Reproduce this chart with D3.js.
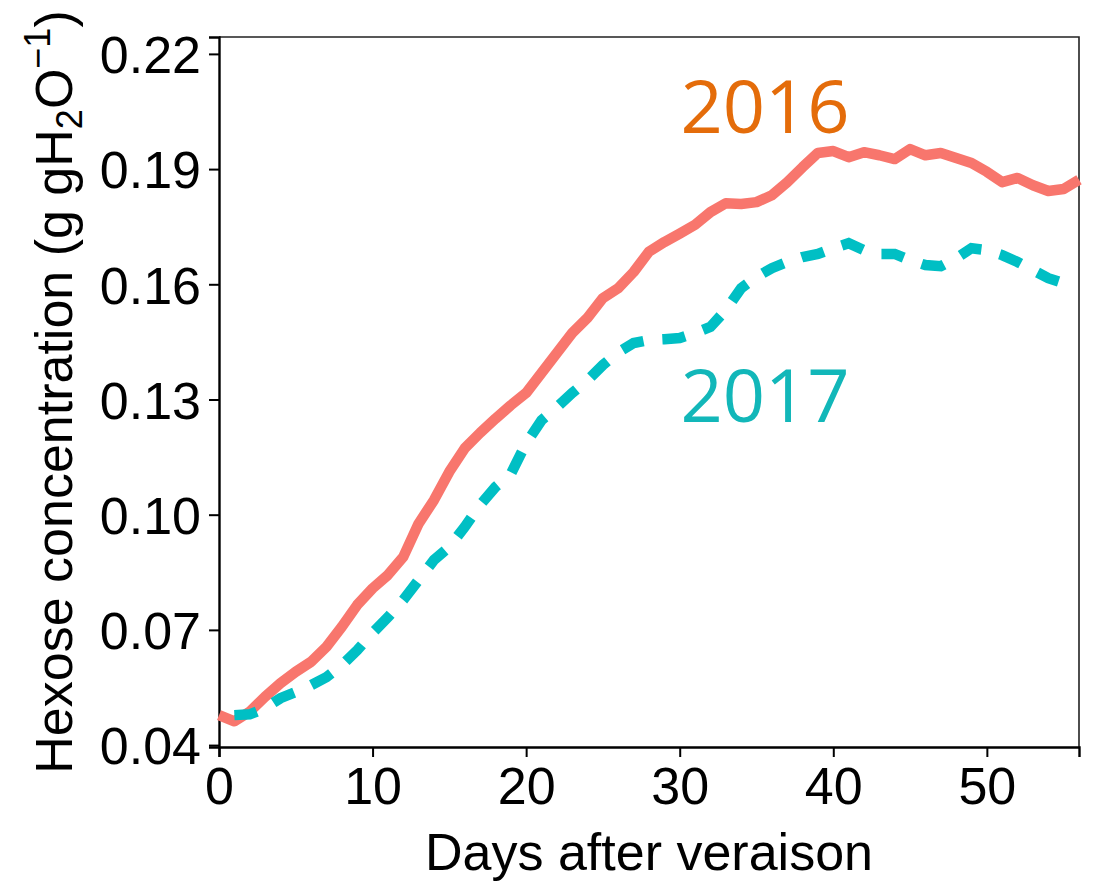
<!DOCTYPE html>
<html>
<head>
<meta charset="utf-8">
<script src="https://cdn.jsdelivr.net/npm/d3@7/dist/d3.min.js"></script>
<style>
  html, body { margin: 0; padding: 0; background: #fff; }
  svg { display: block; }
  text { font-family: "Liberation Sans", Arial, sans-serif; fill: #000; }
</style>
</head>
<body>
<svg id="chart" width="1094" height="882"></svg>
<script>
// Hexose concentration (g per g H2O) by day after veraison
const days2016 = d3.range(0, 57);
const hexose2016 = [
  0.0478, 0.0462, 0.0487, 0.0526, 0.0561, 0.0591, 0.0617, 0.0656, 0.0708, 0.0765,
  0.0808, 0.0843, 0.0890, 0.0977, 0.1038, 0.1112, 0.1173, 0.1213, 0.1250, 0.1285,
  0.1317, 0.1369, 0.1421, 0.1473, 0.1513, 0.1564, 0.1590, 0.1632, 0.1685, 0.1710,
  0.1732, 0.1755, 0.1788, 0.1811, 0.1809, 0.1814, 0.1832, 0.1866, 0.1905, 0.1942,
  0.1947, 0.1931, 0.1944, 0.1936, 0.1926, 0.1952, 0.1936, 0.1942, 0.1929, 0.1916,
  0.1893, 0.1866, 0.1877, 0.1858, 0.1843, 0.1848, 0.1872
];

const days2017 = d3.range(1, 56);
const hexose2017 = [
  0.0478, 0.0480, 0.0496, 0.0522, 0.0538, 0.0556, 0.0577, 0.0608, 0.0647, 0.0692,
  0.0733, 0.0778, 0.0830, 0.0882, 0.0916, 0.0968, 0.1025, 0.1072, 0.1106, 0.1186,
  0.1246, 0.1280, 0.1317, 0.1350, 0.1390, 0.1423, 0.1447, 0.1455, 0.1457, 0.1460,
  0.1473, 0.1489, 0.1533, 0.1590, 0.1619, 0.1642, 0.1658, 0.1671, 0.1679, 0.1694,
  0.1707, 0.1689, 0.1679, 0.1679, 0.1663, 0.1650, 0.1647, 0.1668, 0.1694, 0.1689,
  0.1676, 0.1658, 0.1637, 0.1616, 0.1603
];

const yTicks = [0.04, 0.07, 0.10, 0.13, 0.16, 0.19, 0.22];
const xTicks = [0, 10, 20, 30, 40, 50];
const seriesLabels = ["2016", "2017"];

const svg = d3.select("#chart");
const plot = { left: 219, right: 1079, top: 37, bottom: 747 };

const x = d3.scaleLinear().domain([0, 56]).range([plot.left, plot.right]);
const y = d3.scaleLinear().domain([0.0395, 0.2244]).range([plot.bottom, plot.top]);

// Panel frame (top and right edges)
svg.append("path")
  .attr("d", `M${plot.left},${plot.top}H${plot.right}V${plot.bottom}`)
  .attr("fill", "none")
  .attr("stroke", "#222")
  .attr("stroke-width", 1.6);

// Axes
const yAxis = svg.append("g")
  .attr("transform", `translate(${plot.left},0)`)
  .call(d3.axisLeft(y).tickValues(yTicks).tickFormat(d3.format(".2f")).tickSize(10).tickPadding(8));
const xAxis = svg.append("g")
  .attr("transform", `translate(0,${plot.bottom})`)
  .call(d3.axisBottom(x).tickValues(xTicks).tickFormat(d3.format("d")).tickSize(10).tickPadding(10));

[xAxis, yAxis].forEach(g => {
  g.select(".domain").attr("stroke", "#000").attr("stroke-width", 2.4);
  g.selectAll(".tick line").attr("stroke", "#000").attr("stroke-width", 2);
  g.selectAll(".tick text")
    .attr("font-family", '"Liberation Sans", Arial, sans-serif')
    .attr("font-size", 52)
    .attr("fill", "#000");
});
yAxis.selectAll(".tick text").attr("dy", "0.36em");
xAxis.selectAll(".tick text").attr("dy", "0.72em");

// Lines
const line = d3.line().x(d => x(d[0])).y(d => y(d[1]));

svg.append("path")
  .datum(d3.zip(days2016, hexose2016))
  .attr("d", line)
  .attr("fill", "none")
  .attr("stroke", "#F8766D")
  .attr("stroke-width", 10.5)
  .attr("stroke-linejoin", "round");

svg.append("path")
  .datum(d3.zip(days2017, hexose2017))
  .attr("d", line)
  .attr("fill", "none")
  .attr("stroke", "#00BFC4")
  .attr("stroke-width", 10.5)
  .attr("stroke-dasharray", "23 19")
  .attr("stroke-linecap", "butt");

// Series labels
svg.append("text")
  .attr("x", 765).attr("y", 133)
  .attr("text-anchor", "middle")
  .style("font-family", '"Open Sans", sans-serif')
  .style("font-size", "74px")
  .style("fill", "#E46C0A")
  .text(seriesLabels[0]);

svg.append("text")
  .attr("x", 765).attr("y", 422)
  .attr("text-anchor", "middle")
  .style("font-family", '"Open Sans", sans-serif')
  .style("font-size", "74px")
  .style("fill", "#12B7B9")
  .text(seriesLabels[1]);

// Axis titles
svg.append("text")
  .attr("x", (plot.left + plot.right) / 2)
  .attr("y", 870)
  .attr("text-anchor", "middle")
  .attr("font-size", 52)
  .text("Days after veraison");

const yTitle = svg.append("text")
  .attr("transform", `translate(72,${(plot.top + plot.bottom) / 2}) rotate(-90)`)
  .attr("text-anchor", "middle")
  .attr("font-size", 52);
yTitle.append("tspan").text("Hexose concentration (g gH");
yTitle.append("tspan").attr("font-size", 36).attr("dy", 10).text("2");
yTitle.append("tspan").attr("dy", -10).text("O");
yTitle.append("tspan").attr("font-size", 36).attr("dy", -22).text("\u22121");
yTitle.append("tspan").attr("dy", 22).text(")");
</script>
</body>
</html>
